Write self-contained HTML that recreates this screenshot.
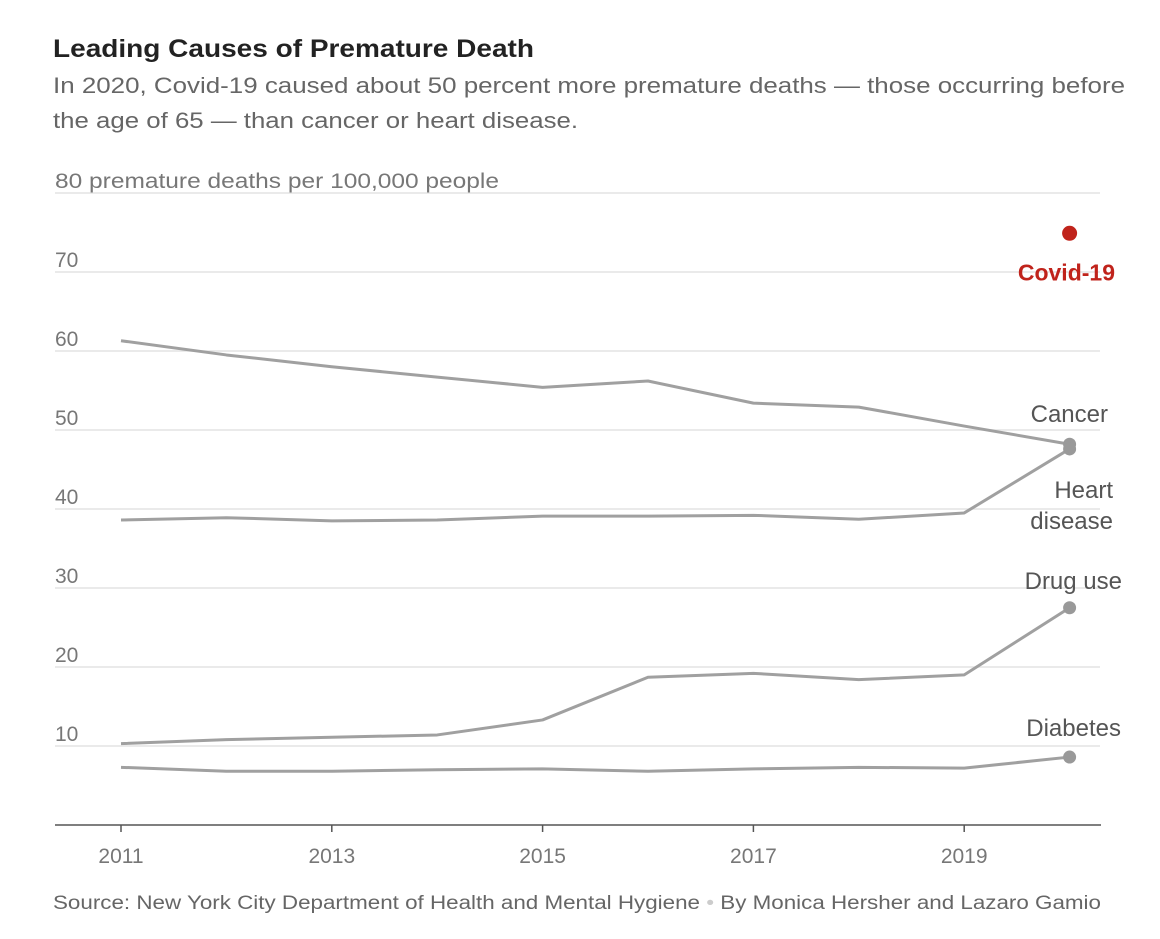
<!DOCTYPE html>
<html><head><meta charset="utf-8"><style>
body{margin:0;background:#fff;width:1160px;height:934px;overflow:hidden;font-family:"Liberation Sans",sans-serif}
</style></head><body>
<svg width="1160" height="934" id="svg">
<text x="53" y="57" font-size="25" font-weight="bold" fill="#222" textLength="481" lengthAdjust="spacingAndGlyphs">Leading Causes of Premature Death</text>
<text x="53" y="93" font-size="22" fill="#666" textLength="1072" lengthAdjust="spacingAndGlyphs">In 2020, Covid-19 caused about 50 percent more premature deaths — those occurring before</text>
<text x="53" y="128" font-size="22" fill="#666" textLength="525" lengthAdjust="spacingAndGlyphs">the age of 65 — than cancer or heart disease.</text>
<text x="53" y="909" font-size="19" fill="#666" textLength="1048" lengthAdjust="spacingAndGlyphs">Source: New York City Department of Health and Mental Hygiene <tspan fill="#ccc">•</tspan> By Monica Hersher and Lazaro Gamio</text>
<g id="grid"></g><g id="lines"></g>
</svg>
<script>
const years=[2011,2012,2013,2014,2015,2016,2017,2018,2019,2020];
const yTicks=[10,20,30,40,50,60,70,80];
const xTicks=[2011,2013,2015,2017,2019];
const cancer=[61.3,59.5,58,56.7,55.4,56.2,53.4,52.9,50.5,48.2];
const heart=[38.6,38.9,38.5,38.6,39.1,39.1,39.2,38.7,39.5,47.6];
const drug=[10.3,10.8,11.1,11.4,13.3,18.7,19.2,18.4,19,27.5];
const diabetes=[7.3,6.8,6.8,7.0,7.1,6.8,7.1,7.3,7.2,8.6];
const covid=[74.9];
const NS="http://www.w3.org/2000/svg";
const x=v=>121+(v-2011)*105.4;
const y=v=>825-v*7.9;
function mk(t,a,p){const e=document.createElementNS(NS,t);for(const k in a)e.setAttribute(k,a[k]);p.appendChild(e);return e;}
const g=document.getElementById('grid'),L=document.getElementById('lines');
yTicks.forEach(v=>{
 const l=mk('line',{x1:55,x2:1100,y1:y(v),y2:y(v),stroke:'#e4e4e4','stroke-width':1.5},g);
 
 
 const a={x:55,y:y(v)-5,'font-size':21,fill:'#777'};
 if(v===80){a.textLength=444;a.lengthAdjust='spacingAndGlyphs';}
 const t=mk('text',a,g);
 t.textContent=v===80?'80 premature deaths per 100,000 people':v;
 
 
});
const ax=mk('line',{x1:55,x2:1101,y1:825,y2:825,stroke:'#555','stroke-width':1.5},g);


xTicks.forEach(v=>{
 const tk=mk('line',{x1:x(v),x2:x(v),y1:825,y2:832,stroke:'#555','stroke-width':1.5},g);
 
 
 const t=mk('text',{x:x(v),y:863,'font-size':21,fill:'#777','text-anchor':'middle'},g);
 t.textContent=v;
 
 
});
const series=[['cancer',cancer,['Cancer'],-22,1108],['heart-disease',heart,['Heart','disease'],49,1113],['drug-use',drug,['Drug use'],-19,1122],['diabetes',diabetes,['Diabetes'],-21,1121]];
series.forEach(([n,d,lab,dy,ex])=>{
 const p=mk('polyline',{points:d.map((v,i)=>x(years[i])+','+y(v)).join(' '),fill:'none',stroke:'#a0a0a0','stroke-width':3,'stroke-linejoin':'round'},L);
 
 
 const last=d[d.length-1];
 const c=mk('circle',{cx:x(2020),cy:y(last),r:6.5,fill:'#999'},L);
 
 
 const t=mk('text',{x:ex,y:y(last)+dy,'font-size':24,fill:'#555','text-anchor':'end'},L);
 lab.forEach((s,i)=>{const ts=mk('tspan',{x:ex,dy:i?31:0},t);ts.textContent=s;});
 
 
});
const cc=mk('circle',{cx:x(2020),cy:y(covid[0]),r:7.5,fill:'#c0231b'},L);


const ct=mk('text',{x:1115,y:y(covid[0])+47,'font-size':23,'font-weight':'bold',fill:'#c0231b','text-anchor':'end'},L);
ct.textContent='Covid-19';


</script>
</body></html>
